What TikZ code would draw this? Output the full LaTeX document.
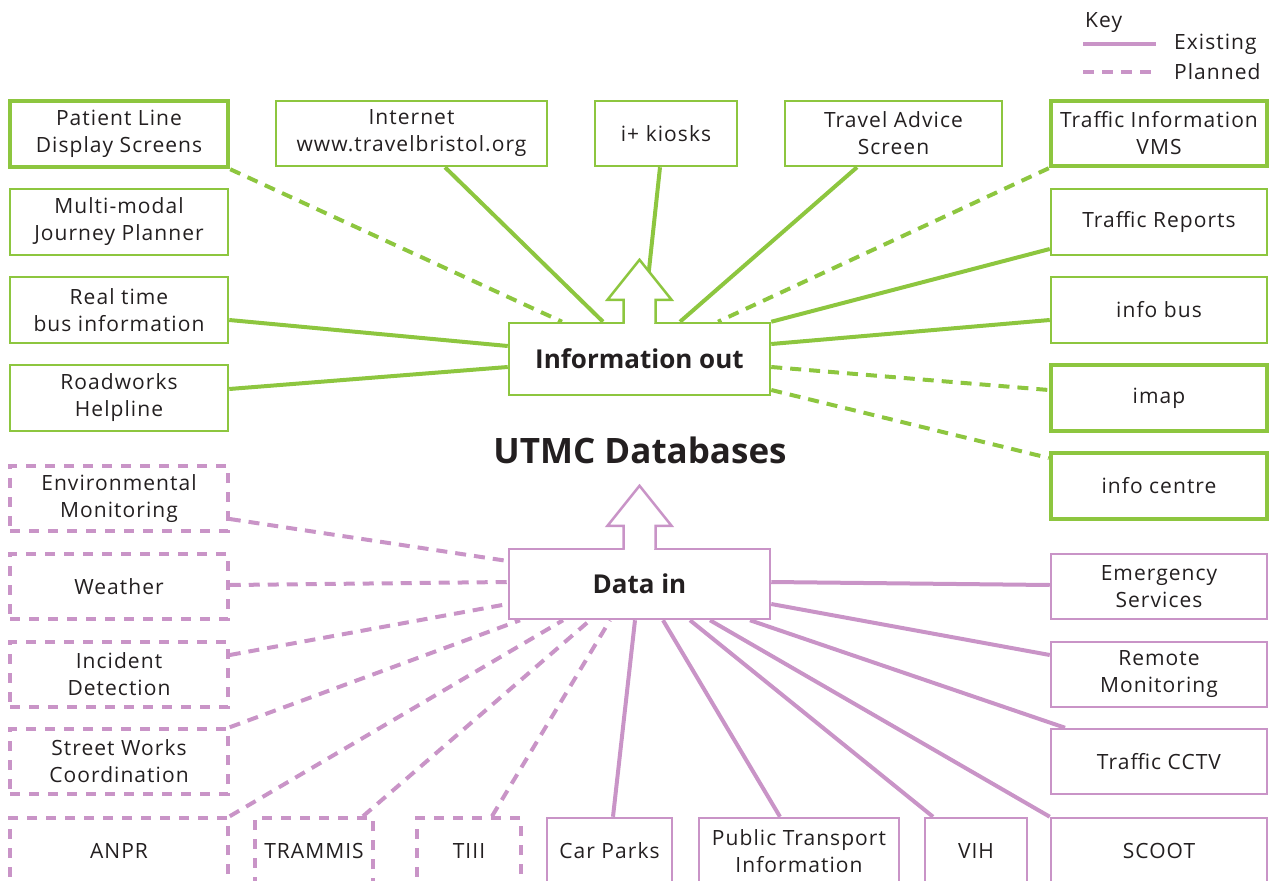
\documentclass[tikz,border=0pt]{standalone}
\usepackage{fontspec}
\setmainfont{Open Sans}
\usetikzlibrary{calc}
\definecolor{utmcgreen}{HTML}{8DC63F}
\definecolor{utmcpurple}{HTML}{C994C7}
\definecolor{utmctext}{HTML}{231F20}
\newcommand\boxfont{\fontsize{21}{27}\selectfont\addfontfeature{LetterSpace=5}}
\newcommand\hubfont{\fontsize{26}{30}\selectfont\bfseries}
\tikzset{%
          box/.style = { rectangle, inner sep=0pt, align=center, text=utmctext, font=\boxfont },
       outbox/.style = { box, draw=utmcgreen, line width=2.5pt },
  outboxthick/.style = { outbox, line width=4.5pt },
        inbox/.style = { box, draw=utmcpurple, line width=2.5pt },
    inboxplan/.style = { inbox, line width=3.5pt, dash pattern=on 10pt off 9pt },
       colbox/.style = { minimum width=218pt, minimum height=66pt },
       topbox/.style = { minimum height=65pt },
       lowbox/.style = { minimum height=66pt },
      outlink/.style = { utmcgreen, line width=4pt },
      outplan/.style = { outlink, dash pattern=on 11pt off 8pt },
       inlink/.style = { utmcpurple, line width=4pt },
       inplan/.style = { inlink, dash pattern=on 11pt off 8pt },
      keytext/.style = { inner sep=0pt, text=utmctext, font=\boxfont },
}

\begin{document}
\begin{tikzpicture}[x=1pt,y=-1pt]
  \useasboundingbox (0,0) rectangle (1270,881);

  % key
  \node[keytext, anchor=base west] (key) at (1085,27) {Key};
  \node[keytext, anchor=west] (exist) at (1174,44) {Existing};
  \node[keytext, anchor=west] (plan) at (1174,72) {Planned};
  \coordinate (existA) at (1083,44);
  \coordinate (planA) at (1083,72);
  \draw[inlink] (existA) -- ([xshift=-18pt]exist.west);
  \draw[inplan] (planA) -- ([xshift=-18pt]plan.west);

  % hubs
  \node[outbox, font=\hubfont, minimum width=261pt, minimum height=72pt] (io) at (639.5,359) {Information out};
  \node[inbox, font=\hubfont, minimum width=261pt, minimum height=70pt] (di) at (639.5,584) {Data in};
  \node[text=utmctext, font=\fontsize{35}{40}\selectfont\bfseries] (utmc) at (640,450) {UTMC Databases};

  % information out
  \node[outboxthick, colbox] (patient) at (119,134) {Patient Line\\Display Screens};
  \node[outbox, topbox, minimum width=271pt] (internet) at (411.5,133.5) {Internet\\www.travelbristol.org};
  \node[outbox, topbox, minimum width=142pt] (kiosks) at (666,133.5) {i+ kiosks};
  \node[outbox, topbox, minimum width=217pt] (advice) at (893.5,133.5) {Travel Advice\\Screen};
  \node[outboxthick, topbox, minimum width=216pt] (vms) at (1159,133.5) {Traffic Information\\VMS};
  \node[outbox, colbox] (journey) at (119,222) {Multi-modal\\Journey Planner};
  \node[outbox, colbox] (realtime) at (119,310) {Real time\\bus information};
  \node[outbox, colbox] (roadworks) at (119,398) {Roadworks\\Helpline};
  \node[outbox, colbox, minimum width=216pt] (reports) at (1159,222) {Traffic Reports};
  \node[outbox, colbox, minimum width=216pt] (infobus) at (1159,310) {info bus};
  \node[outboxthick, colbox, minimum width=216pt] (imap) at (1159,398) {imap};
  \node[outboxthick, colbox, minimum width=216pt] (centre) at (1159,486) {info centre};

  % data in
  \node[inboxplan, colbox, minimum height=65pt] (env) at (119,498.5) {Environmental\\Monitoring};
  \node[inboxplan, colbox, minimum height=65pt] (weather) at (119,586.5) {Weather};
  \node[inboxplan, colbox, minimum height=65pt] (incident) at (119,674.5) {Incident\\Detection};
  \node[inboxplan, colbox, minimum height=65pt] (street) at (119,761.5) {Street Works\\Coordination};
  \node[inboxplan, lowbox, minimum width=218pt] (anpr) at (119,851) {ANPR};
  \node[inboxplan, lowbox, minimum width=118pt] (trammis) at (314,851) {TRAMMIS};
  \node[inboxplan, lowbox, minimum width=104pt] (tiii) at (469,851) {TIII};
  \node[inbox, lowbox, minimum width=125pt] (carparks) at (609.5,851) {Car Parks};
  \node[inbox, lowbox, minimum width=200pt] (pti) at (799,851) {Public Transport\\Information};
  \node[inbox, lowbox, minimum width=102pt] (vih) at (976,851) {VIH};
  \node[inbox, lowbox, minimum width=216pt] (scoot) at (1159,851) {SCOOT};
  \node[inbox, colbox, minimum width=216pt, minimum height=65pt] (cctv) at (1159,761.5) {Traffic CCTV};
  \node[inbox, colbox, minimum width=216pt, minimum height=65pt] (remote) at (1159,674.5) {Remote\\Monitoring};
  \node[inbox, colbox, minimum width=216pt, minimum height=65pt] (emergency) at (1159,586.5) {Emergency\\Services};

  % links out
  \coordinate (iotip) at ([yshift=62pt]io.north);
  \draw[outplan] (patient.south east) -- ([xshift=-77.5pt]io.north);
  \draw[outlink] ([xshift=33.5pt]internet.south) -- ([xshift=-36.5pt]io.north);
  \draw[outlink] ([xshift=-6pt]kiosks.south) -- ([xshift=8pt,yshift=-24pt]iotip);
  \draw[outlink] ([xshift=-36.5pt]advice.south) -- ([xshift=40.5pt]io.north);
  \draw[outplan] (vms.south west) -- ([xshift=78.5pt]io.north);
  \draw[outlink] ([yshift=-27pt]reports.west) -- (io.north east);
  \draw[outlink] ([yshift=-10pt]infobus.west) -- ([yshift=15pt]io.east);
  \draw[outplan] ([yshift=-8pt]io.east) -- ([yshift=8pt]imap.west);
  \draw[outplan] ([yshift=-31pt]io.east) -- ([yshift=28pt]centre.west);
  \draw[outlink] ([yshift=-10pt]realtime.east) -- ([yshift=13pt]io.west);
  \draw[outlink] ([yshift=9pt]roadworks.east) -- ([yshift=-8pt]io.west);

  % links in
  \draw[inplan] ([yshift=-20.5pt]env.east) -- ([yshift=23pt]di.west);
  \draw[inplan] ([yshift=1.5pt]weather.east) -- ([yshift=2pt]di.west);
  \draw[inplan] ([yshift=19.5pt]incident.east) -- ([yshift=-20pt]di.west);
  \draw[inplan] (street.north east) -- ([xshift=-119.5pt]di.south);
  \draw[inplan] (anpr.north east) -- ([xshift=-76.5pt]di.south);
  \draw[inplan] ([xshift=49pt]trammis.north) -- ([xshift=-49.5pt]di.south);
  \draw[inplan] ([xshift=23pt]tiii.north) -- ([xshift=-29.5pt]di.south);
  \draw[inlink] ([xshift=3.5pt]carparks.north) -- ([xshift=-4.5pt]di.south);
  \draw[inlink] ([xshift=-19pt]pti.north) -- ([xshift=23.5pt]di.south);
  \draw[inlink] ([xshift=-43pt]vih.north) -- ([xshift=50.5pt]di.south);
  \draw[inlink] (scoot.north west) -- ([xshift=70.5pt]di.south);
  \draw[inlink] ([xshift=-94pt]cctv.north) -- ([xshift=110.5pt]di.south);
  \draw[inlink] ([yshift=-20pt]di.east) -- ([yshift=19.5pt]remote.west);
  \draw[inlink] ([yshift=2pt]di.east) -- ([yshift=1.5pt]emergency.west);

  % arrows into the databases
  \fill[white] ([xshift=-14.5pt,yshift=-2pt]io.north) rectangle ([xshift=14.5pt,yshift=30pt]io.north);
  \draw[utmcgreen, line width=2.5pt, fill=white, line join=miter]
    ([xshift=-16pt,yshift=-1.25pt]io.north) -- ++(0,-23.25) -- ++(-16,0) -- ++(32,-40)
    -- ++(32,40) -- ++(-16,0) -- ++(0,23.25);
  \fill[white] ([xshift=-14.5pt,yshift=-2pt]di.north) rectangle ([xshift=14.5pt,yshift=30pt]di.north);
  \draw[utmcpurple, line width=2.5pt, fill=white, line join=miter]
    ([xshift=-16pt,yshift=-1.25pt]di.north) -- ++(0,-23.25) -- ++(-16,0) -- ++(32,-40)
    -- ++(32,40) -- ++(-16,0) -- ++(0,23.25);
\end{tikzpicture}
\end{document}
